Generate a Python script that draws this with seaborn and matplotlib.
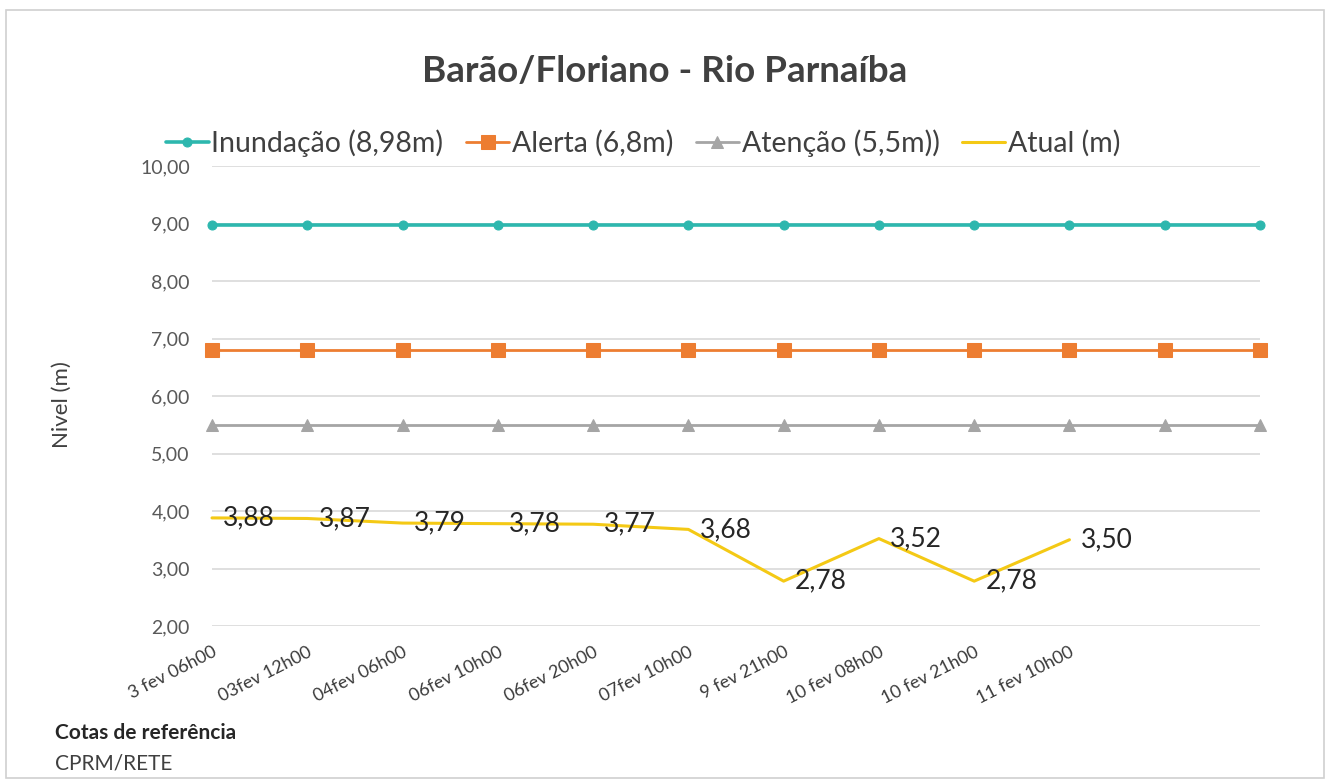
import numpy as np
import pandas as pd
import matplotlib
matplotlib.use('Agg')
import matplotlib.pyplot as plt
from matplotlib.patches import Rectangle
import seaborn as sns

# ── data ─────────────────────────────────────────────────────────────────────
categories = ['3 fev 06h00', '03fev 12h00', '04fev 06h00', '06fev 10h00',
              '06fev 20h00', '07fev 10h00', '9 fev 21h00', '10 fev 08h00',
              '10 fev 21h00', '11 fev 10h00', '', '']
inundacao = [8.98] * 12
alerta = [6.8] * 12
atencao = [5.5] * 12
atual = [3.88, 3.87, 3.79, 3.78, 3.77, 3.68, 2.78, 3.52, 2.78, 3.50, np.nan, np.nan]

series_names = ['Inundação (8,98m)', 'Alerta (6,8m)', 'Atenção (5,5m))', 'Atual (m)']

sns.set_theme(style='white')
plt.rcParams['font.family'] = ['Lato', 'DejaVu Sans']

df = pd.DataFrame({
    'pos': np.arange(len(categories)),
    series_names[0]: inundacao,
    series_names[1]: alerta,
    series_names[2]: atencao,
    series_names[3]: atual,
})
long = df.melt(id_vars='pos', var_name='serie', value_name='nivel')

palette = {
    series_names[0]: '#2DB7AE',
    series_names[1]: '#ED7D31',
    series_names[2]: '#A5A5A5',
    series_names[3]: '#F4C915',
}
markers = {
    series_names[0]: 'o',
    series_names[1]: 's',
    series_names[2]: '^',
    series_names[3]: 'x',
}
msize = {series_names[0]: 6.5, series_names[1]: 10,
         series_names[2]: 9, series_names[3]: 0.1}
lw = {series_names[0]: 2.6, series_names[1]: 2.0,
      series_names[2]: 2.0, series_names[3]: 2.2}

fig = plt.figure(figsize=(13.3, 7.82), dpi=100)
ax = fig.add_axes([212 / 1330, 1 - 626 / 782, (1260 - 212) / 1330, (626 - 166) / 782])

for name in series_names:
    sub = long[long['serie'] == name]
    sns.lineplot(data=sub, x='pos', y='nivel', ax=ax, color=palette[name],
                 marker=markers[name], markersize=msize[name],
                 markeredgecolor=palette[name], linewidth=lw[name],
                 label=name, zorder=3, clip_on=False)

# data labels for the current level
for x, v in zip(df['pos'], atual):
    if not np.isnan(v):
        ax.annotate(f'{v:.2f}'.replace('.', ','), (x, v), xytext=(8, 0),
                    textcoords='offset points', ha='left', va='center',
                    fontsize=19, color='#262626')

ax.set_xlim(0, len(categories) - 1)
ax.set_ylim(2, 10)
ax.set_yticks(np.arange(2, 11, 1))
ax.set_yticklabels([f'{t:.2f}'.replace('.', ',') for t in np.arange(2, 11, 1)],
                   fontsize=14, color='#595959')
ax.set_xticks(df['pos'])
ax.set_xticklabels(categories, rotation=27, ha='right', rotation_mode='anchor',
                   fontsize=13, color='#3A3A3A')
ax.tick_params(axis='y', length=0, pad=16)
ax.tick_params(axis='x', length=0, pad=13)
ax.grid(axis='y', color='#D9D9D9', linewidth=1.2, zorder=0)
ax.grid(axis='x', visible=False)
for s in ax.spines.values():
    s.set_visible(False)
ax.set_xlabel('')
ax.set_ylabel('')

fig.text(62 / 1330, 1 - 405 / 782, 'Nivel (m)', rotation=90, ha='center',
         va='center', fontsize=16, color='#404040')

# legend across the top
handles, labels = ax.get_legend_handles_labels()
ax.legend(handles, labels, loc='center', bbox_to_anchor=(643 / 1330, 1 - 143 / 782),
          bbox_transform=fig.transFigure, ncol=4, frameon=False, fontsize=20.5,
          handlelength=1.5, handletextpad=0.1, columnspacing=0.8,
          labelcolor='#404040')

fig.text(0.5, 1 - 72 / 782, 'Barão/Floriano - Rio Parnaíba', ha='center',
         va='center', fontsize=26.5, fontweight='bold', color='#404040')

fig.text(55 / 1330, 1 - 733 / 782, 'Cotas de referência', ha='left', va='center',
         fontsize=15, fontweight='bold', color='#262626')
fig.text(55 / 1330, 1 - 763 / 782, 'CPRM/RETE', ha='left', va='center',
         fontsize=15, color='#404040')

# chart frame
fig.patches.append(Rectangle((6 / 1330, 4 / 782), 1318 / 1330, 768 / 782,
                             transform=fig.transFigure, fill=False,
                             edgecolor='#D0D0D0', linewidth=1.2))

fig.savefig('out.png', dpi=100)
